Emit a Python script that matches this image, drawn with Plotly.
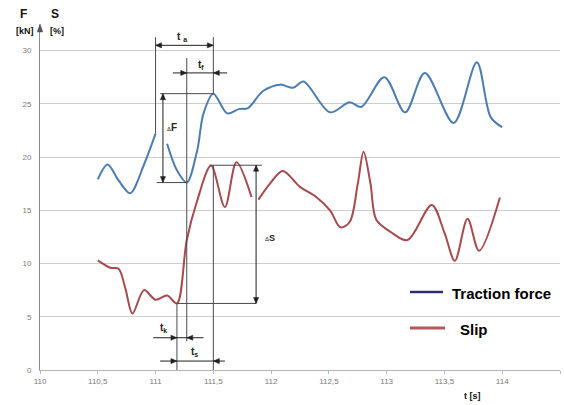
import plotly.graph_objects as go

# ---- data ----
force_t = [110.5, 110.585, 110.68, 110.78, 110.9, 111.0, None,
           111.1, 111.185, 111.27, 111.36, 111.415, 111.5, 111.62, 111.72, 111.8,
           111.93, 112.08, 112.19, 112.28, 112.51, 112.68, 112.78, 112.98, 113.16,
           113.33, 113.58, 113.78, 113.9, 114.0]
force_kN = [17.9, 19.3, 17.8, 16.6, 19.3, 22.2, None,
            21.25, 18.75, 17.6, 20.6, 24.1, 25.95, 24.1, 24.5, 24.6,
            26.2, 26.8, 26.5, 27.1, 24.2, 25.15, 24.7, 27.5, 24.2,
            27.9, 23.2, 28.9, 23.75, 22.8]

slip_t = [110.5, 110.61, 110.68, 110.74, 110.8, 110.9, 111.0, 111.1, 111.185,
          111.27, 111.36, 111.48, 111.6, 111.7, 111.83, None,
          111.89, 111.99, 112.1, 112.25, 112.39, 112.51, 112.6, 112.68, 112.75,
          112.8, 112.86, 112.91, 113.03, 113.18, 113.39, 113.5, 113.59, 113.7,
          113.8, 113.98]
slip_pct = [10.3, 9.6, 9.5, 7.6, 5.3, 7.5, 6.6, 7.0, 6.25,
            12.2, 15.9, 19.2, 15.3, 19.5, 16.25, None,
            16.0, 17.5, 18.7, 17.2, 16.25, 15.0, 13.4, 13.9, 17.5,
            20.5, 17.5, 14.1, 13.0, 12.2, 15.5, 12.9, 10.25, 14.2,
            11.2, 16.2]

x_ticks = [110, 110.5, 111, 111.5, 112, 112.5, 113, 113.5, 114, 114.5]
x_tick_text = ["110", "110,5", "111", "111,5", "112", "112,5", "113", "113,5", "114", "114"]
y_ticks = [0, 5, 10, 15, 20, 25, 30]

series_names = ["Traction force", "Slip"]

# ---- layout constants ----
W, H = 564, 405
ML, MR, MT, MB = 40, 4, 25, 35
X_RANGE = [110, 114.5]
Y_RANGE = [0, 32.4]
BLUE = "#4c7db1"
RED = "#a64a4e"
ANN = "#4a4a4a"
HEAD = "#202020"
PW = W - ML - MR
PH = H - MT - MB
SX = PW / (X_RANGE[1] - X_RANGE[0])   # px per data unit (x)
SY = PH / (Y_RANGE[1] - Y_RANGE[0])   # px per data unit (y)


def px_to_paper(px, py):
    return (px - ML) / PW, (H - MB - py) / PH


fig = go.Figure()
fig.add_trace(go.Scatter(x=force_t, y=force_kN, mode="lines", name=series_names[0],
                         line=dict(color=BLUE, width=2, shape="spline", smoothing=0.9),
                         connectgaps=False, showlegend=False))
fig.add_trace(go.Scatter(x=slip_t, y=slip_pct, mode="lines", name=series_names[1],
                         line=dict(color=RED, width=2, shape="spline", smoothing=0.9),
                         connectgaps=False, showlegend=False))

shapes = []
annotations = []


def seg(x0, y0, x1, y1, color=ANN, width=1):
    shapes.append(dict(type="line", xref="x", yref="y", x0=x0, y0=y0, x1=x1, y1=y1,
                       line=dict(color=color, width=width), layer="above"))


def head(x, y, d, L=6.0, hw=2.6):
    """Filled arrowhead with its tip at (x, y) pointing in direction d."""
    lx, ly = L / SX, L / SY
    wx, wy = hw / SX, hw / SY
    if d == "right":
        pts = [(x, y), (x - lx, y + wy), (x - lx, y - wy)]
    elif d == "left":
        pts = [(x, y), (x + lx, y + wy), (x + lx, y - wy)]
    elif d == "up":
        pts = [(x, y), (x - wx, y - ly), (x + wx, y - ly)]
    else:
        pts = [(x, y), (x - wx, y + ly), (x + wx, y + ly)]
    path = "M " + " L ".join(f"{a},{b}" for a, b in pts) + " Z"
    shapes.append(dict(type="path", xref="x", yref="y", path=path, fillcolor=HEAD,
                       line=dict(color=HEAD, width=0.5), layer="above"))


# time markers (annotation geometry)
t_a0, t_peak, t_mid, t_s0 = 111.0, 111.5, 111.27, 111.185

# vertical guide lines
seg(t_a0, 22.2, t_a0, 31.26)
seg(t_peak, 25.95, t_peak, 31.26)
seg(t_mid, 2.7, t_mid, 29.3)
seg(t_peak, 0, t_peak, 19.23)
seg(t_s0, 0, t_s0, 6.25)

# delta F
seg(111.04, 25.95, t_peak, 25.95)
seg(111.01, 17.6, t_mid, 17.6)
seg(111.064, 25.95, 111.064, 17.6, color=HEAD)
head(111.064, 25.95, "up")
head(111.064, 17.6, "down")
# delta S
seg(111.47, 19.23, 111.92, 19.23)
seg(t_s0, 6.25, 111.87, 6.25)
seg(111.87, 19.23, 111.87, 6.25, color=HEAD)
head(111.87, 19.23, "up")
head(111.87, 6.25, "down")
# t_a (double arrow between lines)
seg(t_a0, 30.49, t_peak, 30.49, color=HEAD)
head(t_a0, 30.49, "left")
head(t_peak, 30.49, "right")
# t_f (arrows from outside)
seg(111.15, 27.9, 111.62, 27.9, color=HEAD)
head(t_mid, 27.9, "right")
head(t_peak, 27.9, "left")
# t_k
seg(110.98, 3.03, 111.415, 3.03, color=HEAD)
head(t_s0, 3.03, "right")
head(t_mid, 3.03, "left")
# t_s
seg(111.04, 0.84, 111.6, 0.84, color=HEAD)
head(t_s0, 0.84, "right")
head(t_peak, 0.84, "left")

LBL = dict(family="Liberation Sans, Arial, sans-serif", size=10, color="#222222")


def label(x, y, text, xanchor="center", size=10):
    f = dict(LBL)
    f["size"] = size
    annotations.append(dict(x=x, y=y, xref="x", yref="y", text=text, showarrow=False,
                            xanchor=xanchor, yanchor="middle", font=f))


label(111.23, 31.3, "<b>t</b> <sub><b>a</b></sub>")
label(111.39, 28.6, "<b>t</b><sub><b>f</b></sub>")
label(111.14, 22.8, "<span style='font-size:6px'>Δ</span><b>F</b>")
label(111.93, 12.4, "<span style='font-size:6px'>Δ</span><b>S</b>", xanchor="left", size=9)
label(111.07, 3.95, "<b>t</b><sub><b>k</b></sub>")
label(111.34, 1.7, "<b>t</b><sub><b>s</b></sub>")

# y-axis arrowhead (paper coordinates, so it is not clipped)
ax_x, ax_y = px_to_paper(ML, MT)
hwp, lp = 2.8 / PW, 7.0 / PH
shapes.append(dict(type="path", xref="paper", yref="paper",
                   path=f"M {ax_x},{ax_y + 0.003} L {ax_x - hwp},{ax_y - lp} L {ax_x + hwp},{ax_y - lp} Z",
                   fillcolor="#555555", line=dict(color="#555555", width=0.5), layer="above"))

# axis titles
TITLE = dict(family="Liberation Sans, Arial, sans-serif", size=12, color="#111111")
for px, py, txt, sz in [(23, 14, "<b>F</b>", 12), (25, 31, "<b>[kN]</b>", 9),
                        (55, 14, "<b>S</b>", 12), (57, 31, "<b>[%]</b>", 9),
                        (472, 396, "<b>t [s]</b>", 9)]:
    xp, yp = px_to_paper(px, py)
    f = dict(TITLE)
    f["size"] = sz
    annotations.append(dict(x=xp, y=yp, xref="paper", yref="paper", text=txt, showarrow=False,
                            xanchor="center", yanchor="middle", font=f))

# legend (drawn manually)
bx0, by0 = px_to_paper(400, 346)
bx1, by1 = px_to_paper(555, 278)
shapes.append(dict(type="rect", xref="paper", yref="paper", x0=bx0, y0=by0, x1=bx1, y1=by1,
                   fillcolor="white", line=dict(width=0), layer="between"))
LEG = dict(family="Liberation Sans Narrow, Arial Narrow, Liberation Sans, sans-serif",
           size=15, color="#000000")
for (lx0, lx1, ly, col, wid, tx, name) in [(410, 443, 292, "#2e3170", 2.5, 450, series_names[0]),
                                           (410, 445, 328, "#b2585b", 3, 458, series_names[1])]:
    a0, b0 = px_to_paper(lx0, ly)
    a1, _ = px_to_paper(lx1, ly)
    shapes.append(dict(type="line", xref="paper", yref="paper", x0=a0, y0=b0, x1=a1, y1=b0,
                       line=dict(color=col, width=wid), layer="above"))
    tx_p, ty_p = px_to_paper(tx, ly + 1)
    annotations.append(dict(x=tx_p, y=ty_p, xref="paper", yref="paper", text="<b>" + name + "</b>",
                            showarrow=False, xanchor="left", yanchor="middle", font=LEG))

TICKF = dict(family="Liberation Sans, Arial, sans-serif", size=8, color="#7a7a7a")
fig.update_layout(
    width=W, height=H,
    margin=dict(l=ML, r=MR, t=MT, b=MB, pad=0),
    paper_bgcolor="white", plot_bgcolor="white",
    shapes=shapes, annotations=annotations,
    showlegend=False,
    xaxis=dict(range=X_RANGE, tickvals=x_ticks, ticktext=x_tick_text, showgrid=False,
               zeroline=False, showline=True, linecolor="#b5b5b5", linewidth=1,
               ticks="outside", ticklen=3, tickcolor="#b5b5b5", tickfont=TICKF,
               automargin=False),
    yaxis=dict(range=Y_RANGE, tickvals=y_ticks, showgrid=True, gridcolor="#cdcdcd", gridwidth=1,
               zeroline=False, showline=True, linecolor="#8a8a8a", linewidth=1,
               ticks="", tickfont=TICKF, ticklabelstandoff=6, automargin=False),
)

fig.write_html("out.html", config={"displayModeBar": False},
               post_script="document.body.style.margin='0';document.body.style.padding='0';")
